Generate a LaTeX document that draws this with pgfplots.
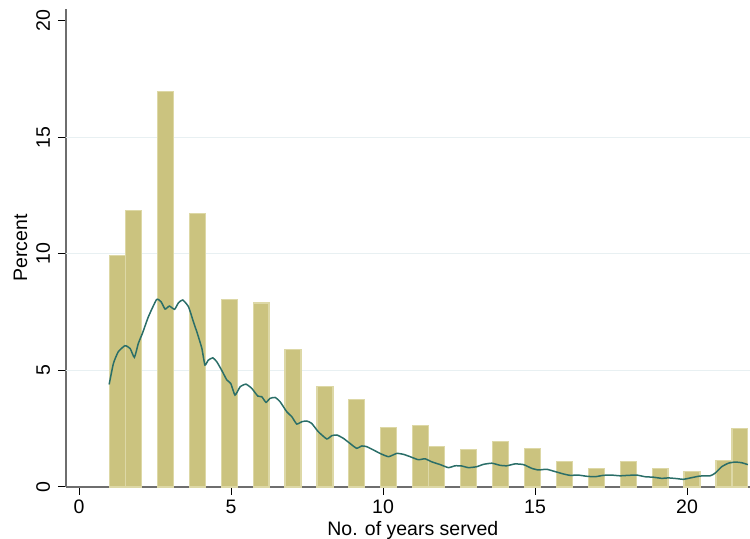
\documentclass[border=0pt]{standalone}
\usepackage{pgfplots}
\pgfplotsset{compat=1.18}
\usepackage{fontspec}
\setmainfont{Liberation Sans}
\definecolor{barfill}{HTML}{CBC37F}
\definecolor{baredge}{HTML}{DDD8A6}
\definecolor{kline}{HTML}{2A6E68}
\definecolor{gridc}{HTML}{E8F0F2}
\definecolor{axc}{HTML}{6E6E6E}
\pgfplotstableread{
x y
1.2625 9.94
1.7875 11.86
2.8375 16.97
3.8875 11.73
4.9375 8.04
5.9875 7.89
7.0375 5.91
8.0875 4.31
9.1375 3.76
10.1875 2.54
11.2375 2.64
11.7625 1.74
12.8125 1.61
13.8625 1.94
14.9125 1.66
15.9625 1.11
17.0125 0.79
18.0625 1.09
19.1125 0.81
20.1625 0.67
21.2125 1.13
21.7375 2.51
}\bars
\pgfplotstableread{
x y
0.99 4.40
1.13 5.30
1.29 5.80
1.51 6.06
1.68 5.94
1.82 5.56
1.95 6.16
2.09 6.61
2.28 7.30
2.55 8.04
2.70 7.94
2.83 7.63
2.97 7.76
3.14 7.62
3.27 7.90
3.41 8.02
3.60 7.73
3.76 7.09
3.89 6.59
4.04 5.94
4.14 5.23
4.25 5.44
4.40 5.54
4.53 5.37
4.69 5.01
4.86 4.59
4.99 4.44
5.13 3.94
5.30 4.30
5.49 4.41
5.68 4.23
5.88 3.90
6.01 3.87
6.15 3.63
6.28 3.80
6.45 3.84
6.61 3.66
6.83 3.23
7.00 3.01
7.16 2.70
7.33 2.80
7.49 2.83
7.65 2.73
7.87 2.37
8.15 2.06
8.31 2.20
8.48 2.23
8.69 2.09
8.91 1.87
9.13 1.66
9.30 1.76
9.46 1.73
9.68 1.59
9.90 1.44
10.18 1.30
10.45 1.44
10.67 1.40
10.89 1.30
11.16 1.17
11.38 1.21
11.60 1.08
11.88 0.96
12.15 0.83
12.37 0.91
12.59 0.90
12.81 0.83
13.08 0.87
13.30 0.97
13.58 1.02
13.85 0.93
14.07 0.91
14.34 0.99
14.62 0.96
14.89 0.80
15.11 0.73
15.38 0.76
15.66 0.66
15.93 0.56
16.15 0.50
16.42 0.51
16.70 0.46
16.97 0.44
17.25 0.50
17.52 0.51
17.80 0.48
18.07 0.50
18.35 0.51
18.62 0.44
18.89 0.42
19.17 0.37
19.38 0.39
19.66 0.36
19.88 0.33
20.15 0.40
20.43 0.47
20.76 0.48
20.92 0.59
21.14 0.87
21.36 1.02
21.58 1.07
21.80 1.04
22.00 0.96
}\dens
\begin{document}
\begin{tikzpicture}
\begin{axis}[
  name=ax,
  scale only axis,
  width=684pt, height=478pt,
  xmin=-0.43, xmax=22.07,
  ymin=0, ymax=20.5,
  axis x line*=bottom, axis y line*=left,
  axis line style={draw=axc, line width=1.3pt},
  xtick={0,5,10,15,20},
  ytick={0,5,10,15,20},
  extra y ticks={5,10,15},
  extra y tick labels={},
  extra y tick style={grid=major, major tick length=0pt},
  grid style={draw=gridc, line width=1.1pt},
  tick align=outside,
  major tick length=8pt,
  tick style={draw=black, line width=1pt},
  /pgf/number format/assume math mode=true,
  tick label style={font=\fontsize{19.5}{23}\selectfont},
  xticklabel style={anchor=north, inner sep=0pt, yshift=-5pt},
  yticklabel style={xshift=-8pt, rotate=90, anchor=base, inner sep=0pt},
  label style={font=\fontsize{19.5}{23}\selectfont},
  xlabel={No. of years served},
  ylabel={Percent},
  xlabel style={at={(axis description cs:0.507,-0.1025)}, anchor=base, inner sep=0pt},
  ylabel style={at={(axis description cs:-0.057,0.5)}, rotate=0, anchor=base, inner sep=0pt},
  clip=false,
]
\addplot[ybar, bar width=0.525, bar shift=0pt, fill=barfill, draw=baredge, line width=1.2pt] table[x=x,y=y] {\bars};
\addplot[kline, line width=1.5pt, smooth, tension=0.3, no markers] table[x=x,y=y] {\dens};
\end{axis}
\pgfresetboundingbox
\path ([xshift=-66pt, yshift=-52pt]ax.south west) rectangle ([yshift=9pt]ax.north east);
\end{tikzpicture}
\end{document}
